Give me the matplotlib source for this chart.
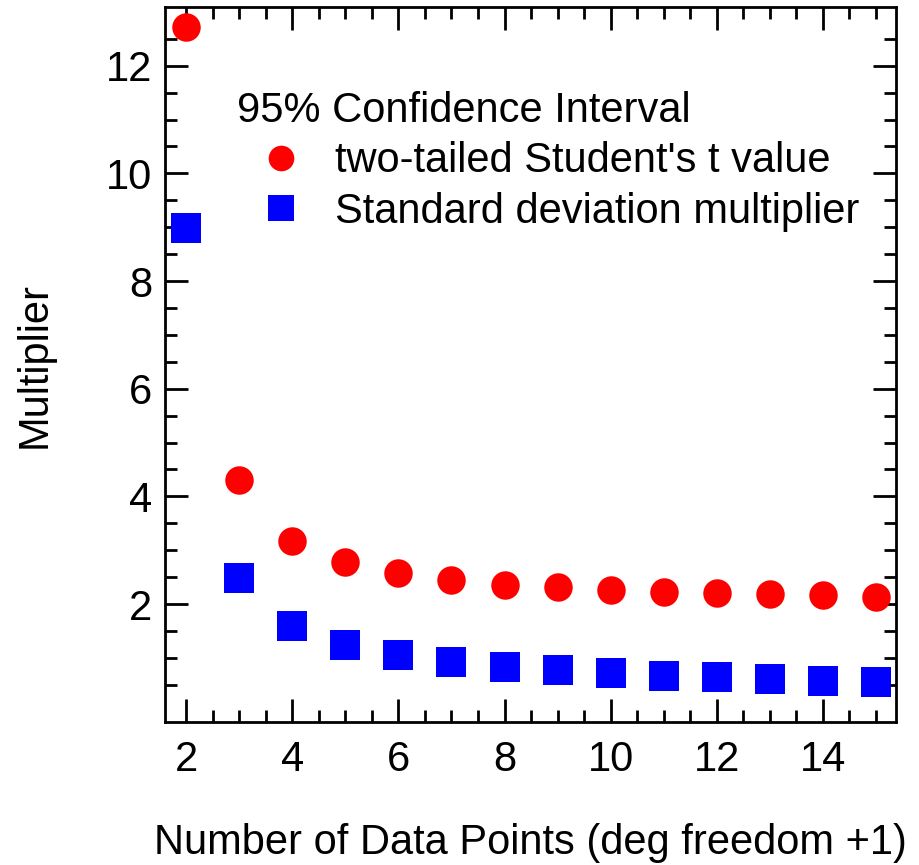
import matplotlib
matplotlib.use("Agg")
import matplotlib.pyplot as plt
import numpy as np
from matplotlib.ticker import MultipleLocator, FixedLocator

plt.rcParams['font.family'] = ['Liberation Sans', 'DejaVu Sans']

# Number of data points (degrees of freedom + 1)
n_points = [2, 3, 4, 5, 6, 7, 8, 9, 10, 11, 12, 13, 14, 15]
# Two-tailed Student's t value at 95% confidence
t_values = [12.71, 4.30, 3.18, 2.78, 2.57, 2.45, 2.36, 2.31, 2.26, 2.23, 2.20, 2.18, 2.16, 2.14]
# Standard deviation multiplier (t / sqrt(n))
sd_mult = [8.98, 2.48, 1.59, 1.24, 1.05, 0.92, 0.84, 0.77, 0.72, 0.67, 0.64, 0.60, 0.58, 0.55]

legend_title = "95% Confidence Interval"
label_t = "two-tailed Student's t value"
label_sd = "Standard deviation multiplier"

FS = 30

fig = plt.figure(figsize=(9.19, 8.65), dpi=100)
ax = fig.add_axes([165 / 919, 1 - 722 / 865, (896 - 165) / 919, (722 - 7) / 865])

ax.plot(n_points, t_values, linestyle='none', marker='o', markersize=20.5,
        color='#ff0000', markeredgewidth=0, label=label_t)
ax.plot(n_points, sd_mult, linestyle='none', marker='s', markersize=21,
        color='#0000ff', markeredgewidth=0, label=label_sd)

ax.set_xlim(1.6, 15.38)
ax.set_ylim(-0.19, 13.09)

ax.xaxis.set_major_locator(MultipleLocator(2))
ax.xaxis.set_minor_locator(MultipleLocator(0.5))
ax.yaxis.set_major_locator(FixedLocator([2, 4, 6, 8, 10, 12]))
ax.yaxis.set_minor_locator(FixedLocator(np.arange(0.5, 12.6, 0.5)))

for s in ax.spines.values():
    s.set_linewidth(2)

ax.tick_params(which='both', direction='in', top=True, right=True, width=2,
               labelsize=FS, colors='black')
ax.tick_params(which='major', length=16.5)
ax.tick_params(which='minor', length=8.5)
ax.tick_params(axis='x', pad=13)
ax.tick_params(axis='y', pad=9)

ax.set_xlabel("Number of Data Points (deg freedom +1)", fontsize=FS, va='center')
ax.set_ylabel("Multiplier", fontsize=FS, va='center')
ax.xaxis.set_label_coords(0.5, (722 - 843) / 715)
ax.yaxis.set_label_coords((35 - 165) / 731, 0.5)

leg = ax.legend(title=legend_title, frameon=False, fontsize=FS, title_fontsize=FS,
                alignment='left', handlelength=2.1, handletextpad=0.25,
                labelspacing=0.25, borderpad=0, markerscale=0.9,
                loc='upper left', bbox_to_anchor=(216 / 919, 1 - 70 / 865),
                bbox_transform=fig.transFigure)

fig.savefig("out.png", dpi=100)
